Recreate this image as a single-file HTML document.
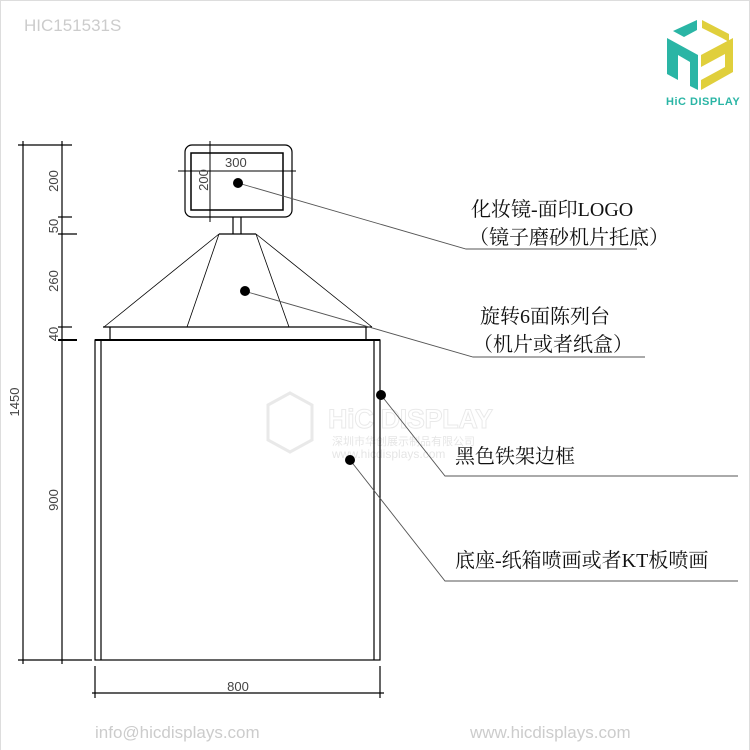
<!DOCTYPE html>
<html><head><meta charset="utf-8"><style>
html,body{margin:0;padding:0;background:#fff}
svg{display:block}
.cn{font-family:"Liberation Serif","Noto Serif CJK SC",serif;font-size:20px;fill:#111}
.dim{font-family:"Liberation Sans",sans-serif;font-size:13px;fill:#444}
</style></head><body>
<svg width="750" height="750" viewBox="0 0 750 750" xmlns="http://www.w3.org/2000/svg">
<rect x="0" y="0" width="750" height="750" fill="#fff"/>
<line x1="0" y1="0.5" x2="750" y2="0.5" stroke="#ddd"/>
<line x1="749.5" y1="0" x2="749.5" y2="750" stroke="#ddd"/>
<line x1="0.5" y1="0" x2="0.5" y2="750" stroke="#ddd"/>
<text x="24" y="31" font-family="Liberation Sans,sans-serif" font-size="17" fill="#ccc">HIC151531S</text>
<!-- logo -->
<g>
<polygon points="697,20 697,30 684,37 673,31" fill="#2ab5a5"/>
<polygon points="702,20 729,34 729,42 722,38 702,28" fill="#e0cf3c"/>
<polygon points="667,38 698,55 698,90 690,86 690,62 678,55 678,80 667,74" fill="#2ab5a5"/>
<polygon points="701,55 733,38 733,72 701,90 701,80 725,67 725,54 701,67" fill="#e0cf3c"/>
<text x="666" y="105" font-family="Liberation Sans,sans-serif" font-weight="bold" font-size="11" fill="#2ab5a5" letter-spacing="0.5">HiC DISPLAY</text>
</g>
<!-- watermark -->
<g opacity="0.25">
<text x="328" y="428" font-family="Liberation Sans,sans-serif" font-size="27" font-weight="bold" fill="none" stroke="#aaa" textLength="165">HiC DISPLAY</text>
<polygon points="268,405 290,393 312,405 312,440 290,452 268,440" fill="none" stroke="#aaa" stroke-width="3"/>
<text x="332" y="445" font-family="Noto Sans CJK SC,sans-serif" font-size="11" fill="#999">深圳市华创展示制品有限公司</text>
<text x="332" y="458" font-family="Liberation Sans,sans-serif" font-size="12" fill="#999">www.hicdisplays.com</text>
</g>
<g stroke="#000" fill="none" stroke-width="1.2">
<line x1="23" y1="141" x2="23" y2="664"/>
<line x1="62" y1="141" x2="62" y2="664"/>
<line x1="18" y1="145" x2="72" y2="145"/>
<line x1="58" y1="217" x2="72" y2="217"/>
<line x1="58" y1="234" x2="77" y2="234"/>
<line x1="58" y1="327" x2="72" y2="327"/>
<line x1="58" y1="340" x2="77" y2="340" stroke-width="2"/>
<line x1="18" y1="660" x2="92" y2="660"/>
<line x1="95" y1="666" x2="95" y2="698"/>
<line x1="380" y1="666" x2="380" y2="698"/>
<line x1="92" y1="693" x2="384" y2="693"/>
<rect x="185" y="145" width="107" height="72" rx="7"/>
<rect x="191" y="153" width="92" height="57" stroke-width="1.5"/>
<line x1="178" y1="171" x2="296" y2="171" stroke-width="1"/>
<line x1="210" y1="141" x2="210" y2="222" stroke-width="1"/>
<line x1="233" y1="217" x2="233" y2="234"/>
<line x1="241" y1="217" x2="241" y2="234"/>
<line x1="219" y1="234" x2="256" y2="234"/>
<line x1="219" y1="234" x2="104" y2="327" stroke-width="0.8"/>
<line x1="219" y1="234" x2="187" y2="327" stroke-width="0.8"/>
<line x1="256" y1="234" x2="289" y2="327" stroke-width="0.8"/>
<line x1="256" y1="234" x2="372" y2="327" stroke-width="0.8"/>
<line x1="103" y1="327" x2="372" y2="327"/>
<line x1="110" y1="327" x2="110" y2="340"/>
<line x1="366" y1="327" x2="366" y2="340"/>
<line x1="95" y1="340" x2="380" y2="340" stroke-width="2"/>
<rect x="95" y="340" width="285" height="320"/>
<line x1="101" y1="340" x2="101" y2="660"/>
<line x1="374" y1="340" x2="374" y2="660"/>
<g stroke="#555" stroke-width="0.9">
<polyline points="238,183 466,249 637,249"/>
<polyline points="244,291 473,357 645,357"/>
<polyline points="381,395 445,476 738,476"/>
<polyline points="350,460 445,581 738,581"/>
</g>
</g>
<g fill="#000">
<circle cx="238" cy="183" r="5"/>
<circle cx="245" cy="291" r="5"/>
<circle cx="381" cy="395" r="5"/>
<circle cx="350" cy="460" r="5"/>
</g>
<text class="dim" transform="translate(58,181) rotate(-90)" text-anchor="middle">200</text>
<text class="dim" transform="translate(58,226) rotate(-90)" text-anchor="middle">50</text>
<text class="dim" transform="translate(58,281) rotate(-90)" text-anchor="middle">260</text>
<text class="dim" transform="translate(58,334) rotate(-90)" text-anchor="middle">40</text>
<text class="dim" transform="translate(19,402) rotate(-90)" text-anchor="middle">1450</text>
<text class="dim" transform="translate(58,500) rotate(-90)" text-anchor="middle">900</text>
<text class="dim" x="238" y="691" text-anchor="middle">800</text>
<text class="dim" x="225" y="167" fill="#222">300</text>
<text class="dim" transform="translate(208,180) rotate(-90)" text-anchor="middle" fill="#222">200</text>
<text class="cn" x="471" y="216">化妆镜-面印LOGO</text>
<text class="cn" x="469" y="244">（镜子磨砂机片托底）</text>
<text class="cn" x="480" y="323">旋转6面陈列台</text>
<text class="cn" x="473" y="351">（机片或者纸盒）</text>
<text class="cn" x="455" y="463">黑色铁架边框</text>
<text class="cn" x="455" y="567">底座-纸箱喷画或者KT板喷画</text>
<text x="95" y="738" font-family="Liberation Sans,sans-serif" font-size="17" fill="#ccc">info@hicdisplays.com</text>
<text x="470" y="738" font-family="Liberation Sans,sans-serif" font-size="17" fill="#ccc">www.hicdisplays.com</text>
</svg>
</body></html>
